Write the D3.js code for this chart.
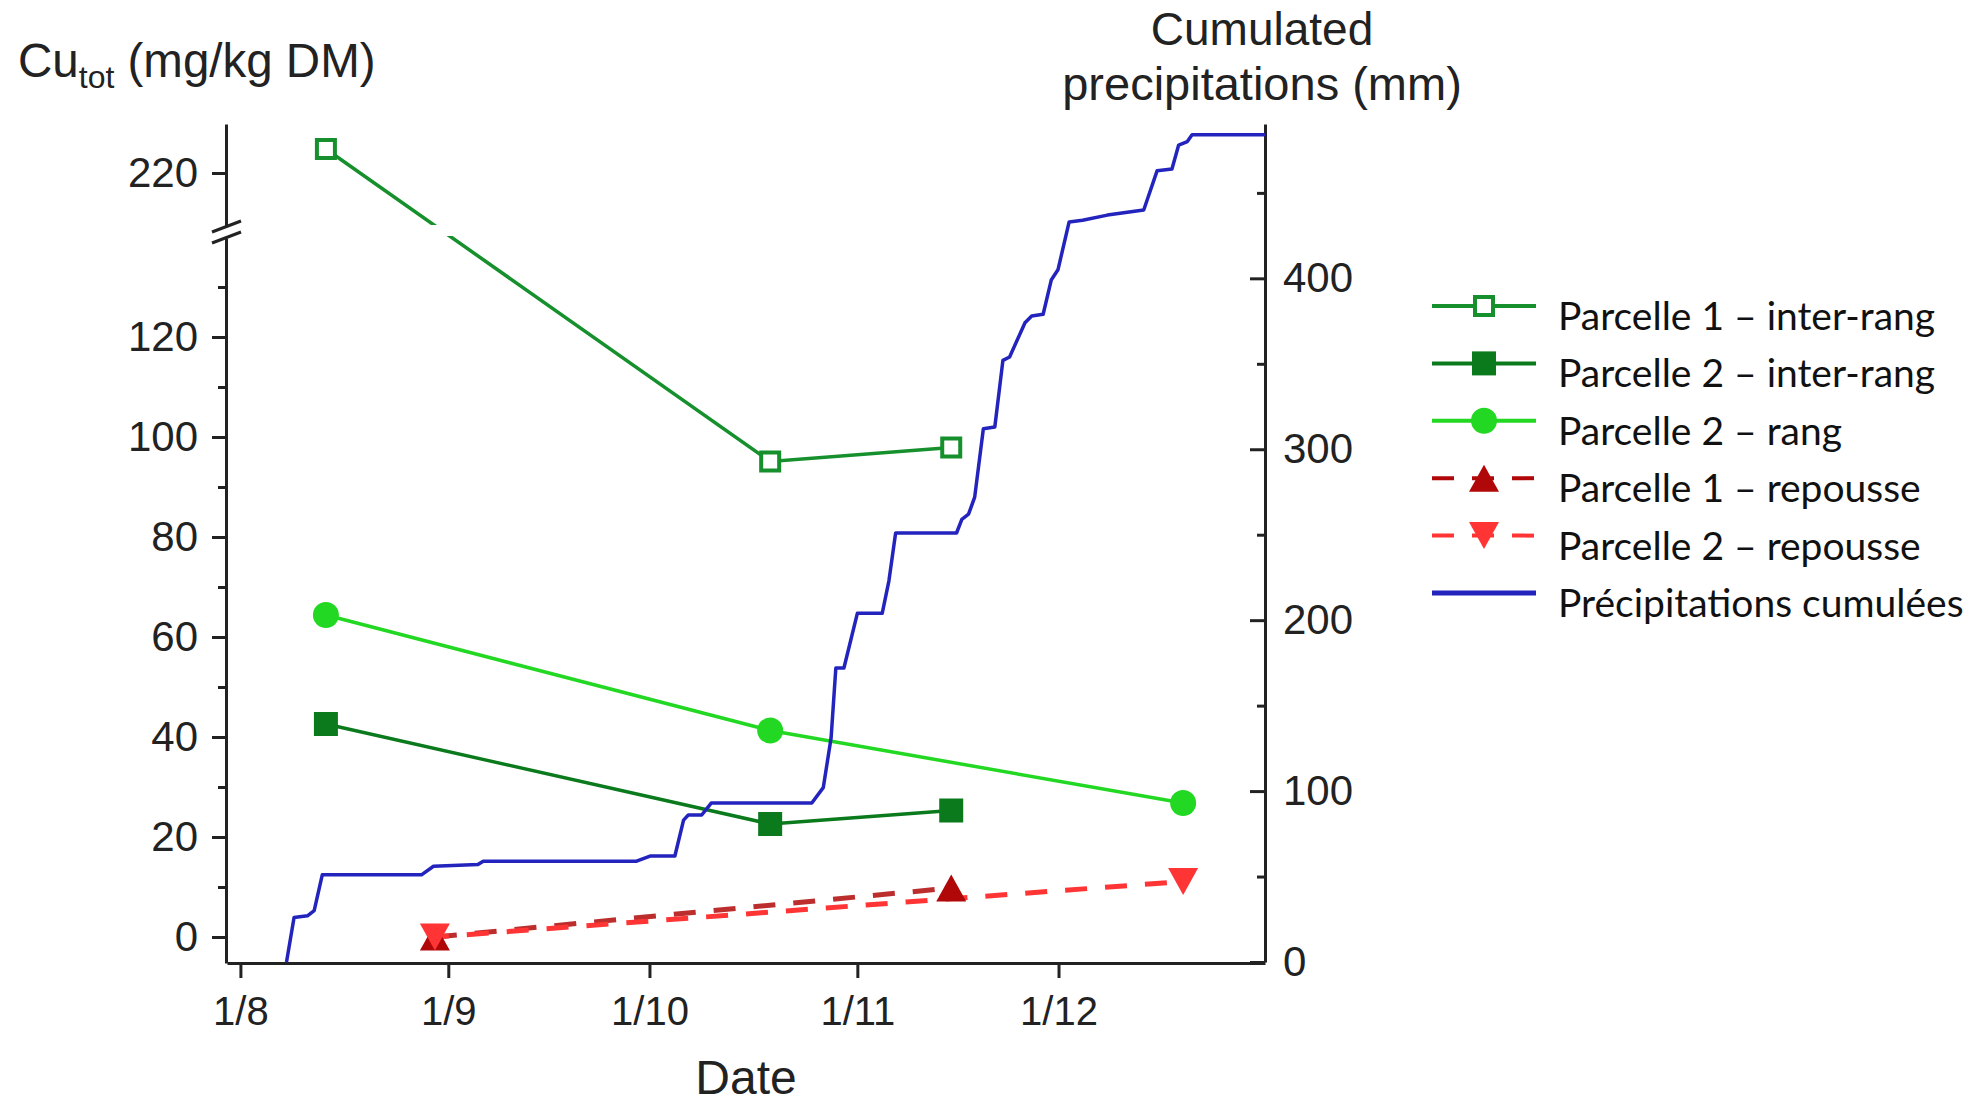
<!DOCTYPE html>
<html><head><meta charset="utf-8">
<script src="https://cdn.jsdelivr.net/npm/d3@7"></script>
<style>body{margin:0;background:#fff} svg{display:block}</style>
</head><body><svg id="c" width="1982" height="1109"></svg>
<script>
// ---------- data ----------
const xDomain = ["2016-07-30 00", "2016-12-31 19"];
const xTickDates = ["2016-08-01 00", "2016-09-01 00", "2016-10-01 00", "2016-11-01 00", "2016-12-01 00"];
const xTickLabels = ["1/8", "1/9", "1/10", "1/11", "1/12"];

const yLowTicks = [0, 20, 40, 60, 80, 100, 120];
const yLowMinor = [10, 30, 50, 70, 90, 110, 130];
const yHighTicks = [220];
const yRightTicks = [0, 100, 200, 300, 400];
const yRightMinor = [50, 150, 250, 350, 450];

const p1InterDates = ["2016-08-13 18", "2016-10-19 00", "2016-11-15 00"];
const p1InterVals  = [224.8, 95.1, 97.9];
const p2InterDates = ["2016-08-13 18", "2016-10-19 00", "2016-11-15 00"];
const p2InterVals  = [42.6, 22.6, 25.3];
const p2RangDates  = ["2016-08-13 18", "2016-10-19 00", "2016-12-19 14"];
const p2RangVals   = [64.4, 41.3, 26.8];
const p1RepDates   = ["2016-08-30 00", "2016-11-15 00"];
const p1RepVals    = [0, 9.8];
const p2RepDates   = ["2016-08-30 00", "2016-12-19 14"];
const p2RepVals    = [0, 11.1];

const precipDates = ["2016-08-07 21","2016-08-09 00","2016-08-11 00","2016-08-12 00","2016-08-13 05",
  "2016-08-28 00","2016-08-29 19","2016-09-05 10","2016-09-06 05","2016-09-29 02","2016-10-01 02",
  "2016-10-04 19","2016-10-06 02","2016-10-06 19","2016-10-08 19","2016-10-10 05","2016-10-25 05",
  "2016-10-26 22","2016-10-28 02","2016-10-28 19","2016-10-30 00","2016-11-01 00","2016-11-04 17",
  "2016-11-05 17","2016-11-06 17","2016-11-15 19","2016-11-16 14","2016-11-17 14","2016-11-18 12",
  "2016-11-19 19","2016-11-21 12","2016-11-22 17","2016-11-23 17","2016-11-26 00","2016-11-27 00",
  "2016-11-28 17","2016-11-29 22","2016-11-30 22","2016-12-02 14","2016-12-04 14","2016-12-08 07",
  "2016-12-13 17","2016-12-15 17","2016-12-17 22","2016-12-18 22","2016-12-20 05","2016-12-20 22",
  "2016-12-31 19"];
const precipVals = [0,26,27,30,51,
  51,56,57,59,59,62,
  62,83,86,86,93,93,
  102,131,172,172,204,204,
  223,251,251,259,262,272,
  312,313,352,354,374,378,
  379,399,405,433,434,437,
  440,463,464,478,480,484,
  484];

const legendLabels = ["Parcelle 1 – inter-rang", "Parcelle 2 – inter-rang", "Parcelle 2 – rang",
  "Parcelle 1 – repousse", "Parcelle 2 – repousse", "Précipitations cumulées"];

// ---------- setup ----------
const parse = d3.timeParse("%Y-%m-%d %H");
const svg = d3.select("#c");
const AX = "#222";
const C = {
  p1i: "#16902c", p2i: "#0a7a1c", p2r: "#22d822",
  p1rep: "#b00808", p2rep: "#ff3535", rain: "#2323bd"
};
const LEFT = 226, RIGHT = 1265, BOTTOM = 963, TOP = 124;

const x = d3.scaleTime().domain(xDomain.map(parse)).range([227, RIGHT]);
const yLow = d3.scaleLinear().domain([-5.2, 139.8]).range([BOTTOM, 238]);
const yHigh = d3.scaleLinear().domain([209.4, 229.8]).range([226, TOP]);
const yR = d3.scaleLinear().domain([0, 490.3]).range([962, TOP]);
const yCu = v => v > 170 ? yHigh(v) : yLow(v);

const tickFont = "'Liberation Sans', Arial, Helvetica, sans-serif";

function styleAxis(g, fs) {
  g.selectAll("path.domain").attr("stroke", AX).attr("stroke-width", 3);
  g.selectAll(".tick line").attr("stroke", AX).attr("stroke-width", 3);
  g.selectAll(".tick text").attr("fill", AX).style("font-size", fs + "px").style("font-family", tickFont);
}

// left axis (lower segment)
const gl = svg.append("g").attr("transform", `translate(${LEFT},0)`)
  .call(d3.axisLeft(yLow).tickValues(yLowTicks).tickSize(14).tickSizeOuter(0).tickPadding(14));
styleAxis(gl, 42);
const glm = svg.append("g").attr("transform", `translate(${LEFT},0)`)
  .call(d3.axisLeft(yLow).tickValues(yLowMinor).tickSize(8).tickSizeOuter(0).tickFormat(""));
styleAxis(glm, 42);
glm.select("path.domain").remove();
// left axis (upper segment)
const gh = svg.append("g").attr("transform", `translate(${LEFT},0)`)
  .call(d3.axisLeft(yHigh).tickValues(yHighTicks).tickSize(14).tickSizeOuter(0).tickPadding(14));
styleAxis(gh, 42);
// break marks
const brk = svg.append("g").attr("stroke", AX).attr("stroke-width", 3);
brk.append("line").attr("x1", LEFT - 14).attr("y1", 232).attr("x2", LEFT + 15).attr("y2", 221);
brk.append("line").attr("x1", LEFT - 14).attr("y1", 243).attr("x2", LEFT + 15).attr("y2", 232);

// right axis
const gr = svg.append("g").attr("transform", `translate(${RIGHT},0)`)
  .call(d3.axisRight(yR).tickValues(yRightTicks).tickSizeInner(-15).tickSizeOuter(0).tickPadding(18));
styleAxis(gr, 42);
gr.selectAll(".tick text").attr("x", 18);
const grm = svg.append("g").attr("transform", `translate(${RIGHT},0)`)
  .call(d3.axisRight(yR).tickValues(yRightMinor).tickSizeInner(-8).tickSizeOuter(0).tickFormat(""));
styleAxis(grm, 42);
grm.select("path.domain").remove();

// bottom axis
const gb = svg.append("g").attr("transform", `translate(0,${BOTTOM})`)
  .call(d3.axisBottom(x).tickValues(xTickDates.map(parse)).tickFormat((d, i) => xTickLabels[i])
    .tickSize(15).tickSizeOuter(0).tickPadding(19));
styleAxis(gb, 40);

// titles
const lt = svg.append("text").attr("x", 18).attr("y", 77).attr("fill", AX)
  .style("font-family", tickFont).style("font-size", "47.5px");
lt.append("tspan").text("Cu");
lt.append("tspan").attr("dy", 11).style("font-size", "32px").text("tot");
lt.append("tspan").attr("dy", -11).text(" (mg/kg DM)");

svg.append("text").attr("x", 1262).attr("y", 45).attr("text-anchor", "middle").attr("fill", AX)
  .style("font-family", tickFont).style("font-size", "46px").text("Cumulated");
svg.append("text").attr("x", 1262).attr("y", 100).attr("text-anchor", "middle").attr("fill", AX)
  .style("font-family", tickFont).style("font-size", "47px").text("precipitations (mm)");
svg.append("text").attr("x", 746).attr("y", 1094).attr("text-anchor", "middle").attr("fill", AX)
  .style("font-family", tickFont).style("font-size", "48px").text("Date");

// clip for broken axis
const defs = svg.append("defs");
const cp = defs.append("clipPath").attr("id", "brkclip");
cp.append("rect").attr("x", 0).attr("y", 0).attr("width", 1982).attr("height", 225);
cp.append("rect").attr("x", 0).attr("y", 236).attr("width", 1982).attr("height", 900);

// ---------- series ----------
function mk(dates, vals) { return dates.map((d, i) => ({ t: parse(d), v: vals[i] })); }
const line = d3.line().x(d => x(d.t)).y(d => yCu(d.v));

const sP1i = mk(p1InterDates, p1InterVals);
const sP2i = mk(p2InterDates, p2InterVals);
const sP2r = mk(p2RangDates, p2RangVals);
const sP1rep = mk(p1RepDates, p1RepVals);
const sP2rep = mk(p2RepDates, p2RepVals);
const sRain = precipDates.map((d, i) => ({ t: parse(d), v: precipVals[i] }));

const triUp = "M-15,13.5L15,13.5L0,-13.5Z";
const triDown = "M-15,-13.5L15,-13.5L0,13.5Z";

function drawMarker(g, type, color, cx, cy) {
  if (type === "openSq") {
    g.append("rect").attr("x", cx - 9).attr("y", cy - 9).attr("width", 18).attr("height", 18)
      .attr("fill", "#fff").attr("stroke", color).attr("stroke-width", 4);
  } else if (type === "sq") {
    g.append("rect").attr("x", cx - 12).attr("y", cy - 12).attr("width", 24).attr("height", 24).attr("fill", color);
  } else if (type === "circ") {
    g.append("circle").attr("cx", cx).attr("cy", cy).attr("r", 13).attr("fill", color);
  } else if (type === "up") {
    g.append("path").attr("d", triUp).attr("transform", `translate(${cx},${cy})`).attr("fill", color);
  } else if (type === "down") {
    g.append("path").attr("d", triDown).attr("transform", `translate(${cx},${cy})`).attr("fill", color);
  }
}

const plot = svg.append("g");
plot.append("path").datum(sP1i).attr("d", line).attr("fill", "none")
  .attr("stroke", C.p1i).attr("stroke-width", 3.5).attr("clip-path", "url(#brkclip)");
plot.append("path").datum(sP2i).attr("d", line).attr("fill", "none")
  .attr("stroke", C.p2i).attr("stroke-width", 3.5);
plot.append("path").datum(sP2r).attr("d", line).attr("fill", "none")
  .attr("stroke", C.p2r).attr("stroke-width", 3.5);
plot.append("path").datum(sP1rep).attr("d", line).attr("fill", "none")
  .attr("stroke", C.p1rep).attr("stroke-width", 5).attr("stroke-dasharray", "22,18").attr("opacity", 0.85);
plot.append("path").datum(sP2rep).attr("d", line).attr("fill", "none")
  .attr("stroke", C.p2rep).attr("stroke-width", 5).attr("stroke-dasharray", "22,18").attr("stroke-dashoffset", 8);

plot.append("path").datum(sRain)
  .attr("d", d3.line().x(d => x(d.t)).y(d => yR(d.v)))
  .attr("fill", "none").attr("stroke", C.rain).attr("stroke-width", 3.5).attr("stroke-linejoin", "round");

sP1i.forEach(d => drawMarker(plot, "openSq", C.p1i, x(d.t), yCu(d.v)));
sP2i.forEach(d => drawMarker(plot, "sq", C.p2i, x(d.t), yCu(d.v)));
sP2r.forEach(d => drawMarker(plot, "circ", C.p2r, x(d.t), yCu(d.v)));
sP1rep.forEach(d => drawMarker(plot, "up", C.p1rep, x(d.t), yCu(d.v)));
sP2rep.forEach(d => drawMarker(plot, "down", C.p2rep, x(d.t), yCu(d.v)));

// ---------- legend ----------
const legTypes = ["openSq", "sq", "circ", "up", "down", null];
const legColors = [C.p1i, C.p2i, C.p2r, C.p1rep, C.p2rep, C.rain];
const legDash = [null, null, null, "22,18", "22,18", null];
const leg = svg.append("g");
legendLabels.forEach((lab, i) => {
  const cy = 306 + i * 57.4;
  const g = leg.append("g");
  g.append("line").attr("x1", 1432).attr("x2", 1536).attr("y1", cy).attr("y2", cy)
    .attr("stroke", legColors[i]).attr("stroke-width", i === 5 ? 5 : 4)
    .attr("stroke-dasharray", legDash[i]);
  if (legTypes[i]) drawMarker(g, legTypes[i], legColors[i], 1484, cy);
  g.append("text").attr("x", 1558).attr("y", cy + 24).attr("fill", "#111")
    .style("font-family", "Lato, 'Open Sans', sans-serif").style("font-size", "39px").text(lab);
});
</script></body></html>
